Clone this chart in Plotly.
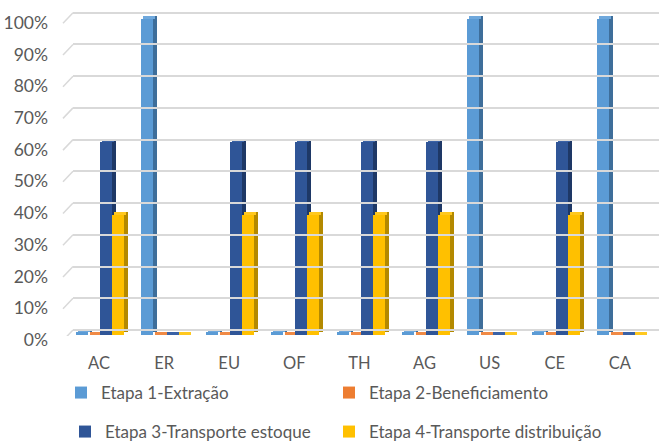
import plotly.graph_objects as go

# Share of each stage per category
categories = ["AC", "ER", "EU", "OF", "TH", "AG", "US", "CE", "CA"]
series_names = [
    "Etapa 1-Extração",
    "Etapa 2-Beneficiamento",
    "Etapa 3-Transporte estoque",
    "Etapa 4-Transporte distribuição",
]
etapa1 = [0.01, 1.00, 0.01, 0.01, 0.01, 0.01, 1.00, 0.01, 1.00]
etapa2 = [0.00, 0.00, 0.00, 0.00, 0.00, 0.00, 0.00, 0.00, 0.00]
etapa3 = [0.61, 0.00, 0.61, 0.61, 0.61, 0.61, 0.00, 0.61, 0.00]
etapa4 = [0.38, 0.00, 0.38, 0.38, 0.38, 0.38, 0.00, 0.38, 0.00]
y_ticks = [0, 0.1, 0.2, 0.3, 0.4, 0.5, 0.6, 0.7, 0.8, 0.9, 1.0]

series_values = [etapa1, etapa2, etapa3, etapa4]
front_colors = ["#5B9BD5", "#ED7D31", "#2F5597", "#FFC000"]
top_colors = ["#6FA8DC", "#F08A45", "#3A62A6", "#FFC81F"]
side_colors = ["#3E6E9A", "#A9561E", "#1E3866", "#B38900"]

W, H = 659, 441
FONT = "Lato"
GREY = "#595959"

# pixel geometry of the plot area
plot_top, plot_bottom = 8, 336
x_left, x_right = 66.4, 652.4
px_per_cat = (x_right - x_left) / len(categories)
bar_px = 12.0
depth_dx, depth_dy = 4.0, 3.0

# bar axis: 0 -> 335 px, 1 -> 19 px
bar_scale = 316.0
bar_range = [-(plot_bottom - 335) / bar_scale, (335 - plot_top) / bar_scale]
# gridline axis: 0 -> 330 px, 1 -> 12.7 px
grid_scale = 317.3
grid_range = [-(plot_bottom - 330) / grid_scale, (330 - plot_top) / grid_scale]

w = bar_px / px_per_cat
ddx = depth_dx / px_per_cat
ddy = depth_dy / bar_scale

# one legend box per entry: (legend id, text start x, row centre y)
legend_slots = [("legend", 101, 393), ("legend2", 369, 393),
                ("legend3", 105, 432), ("legend4", 369, 432)]

fig = go.Figure()

# side faces, top faces, then fronts so the fronts sit on top
for layer in ("side", "top", "front"):
    for i, (name, vals) in enumerate(zip(series_names, series_values)):
        left = (-22.5 + bar_px * i) / px_per_cat
        if layer == "side":
            fig.add_trace(go.Bar(
                x=categories, y=vals, base=[ddy] * len(vals),
                offset=left + ddx, width=w,
                marker=dict(color=side_colors[i], line=dict(width=0)),
                showlegend=False, hoverinfo="skip", xaxis="x", yaxis="y",
            ))
        elif layer == "top":
            fig.add_trace(go.Bar(
                x=categories, y=[ddy] * len(vals), base=vals,
                offset=left + ddx / 2, width=w,
                marker=dict(color=top_colors[i], line=dict(width=0)),
                showlegend=False, hoverinfo="skip", xaxis="x", yaxis="y",
            ))
        else:
            fig.add_trace(go.Bar(
                x=categories, y=vals, base=[0] * len(vals),
                offset=left, width=w, name=name,
                marker=dict(color=front_colors[i], line=dict(width=0)),
                legend=legend_slots[i][0],
                xaxis="x", yaxis="y",
            ))

# slanted floor edge of each gridline
shapes = []
for t in y_ticks:
    shapes.append(dict(
        type="line", xref="paper", yref="y2",
        x0=63 / W, x1=73 / W,
        y0=t - 10.5 / grid_scale, y1=t,
        line=dict(color="#D9D9D9", width=1.5), layer="below",
    ))

legends = {}
for key, text_x, row_y in legend_slots:
    legends[key] = dict(
        orientation="h", xref="container", yref="container",
        x=(text_x - 40) / W, y=1 - row_y / H,
        xanchor="left", yanchor="middle",
        font=dict(family=FONT, size=17, color=GREY),
        bgcolor="rgba(0,0,0,0)",
    )

fig.update_layout(
    width=W, height=H,
    margin=dict(l=0, r=0, t=plot_top, b=H - plot_bottom),
    paper_bgcolor="white", plot_bgcolor="rgba(0,0,0,0)",
    barmode="overlay", bargap=0,
    font=dict(family=FONT, size=16, color=GREY),
    shapes=shapes,
    xaxis=dict(
        domain=[x_left / W, x_right / W], type="category",
        range=[-0.5, len(categories) - 0.5],
        showgrid=False, zeroline=False, showline=False, ticks="",
        ticklabelstandoff=15,
        tickfont=dict(family=FONT, size=16.5, color=GREY),
    ),
    yaxis=dict(
        range=bar_range, showgrid=False, zeroline=False,
        showticklabels=False, showline=False,
    ),
    xaxis2=dict(
        domain=[73 / W, 1.0], range=[0, 1], anchor="y2",
        showgrid=False, zeroline=False, showticklabels=False, showline=False,
    ),
    yaxis2=dict(
        range=grid_range, anchor="x2", tickvals=y_ticks,
        tickformat=".0%", showgrid=True, gridcolor="#D9D9D9", gridwidth=1.5,
        zeroline=False, showline=False, ticks="",
        ticklabelstandoff=24, ticklabelshift=10,
        tickfont=dict(family=FONT, size=17.5, color=GREY),
    ),
    **legends,
)

# bars live on the front subplot, drawn above the gridline subplot
fig.add_trace(go.Scatter(x=[0], y=[0], xaxis="x2", yaxis="y2",
                         mode="markers", marker=dict(opacity=0),
                         showlegend=False, hoverinfo="skip"))

fig.write_html("out.html")
